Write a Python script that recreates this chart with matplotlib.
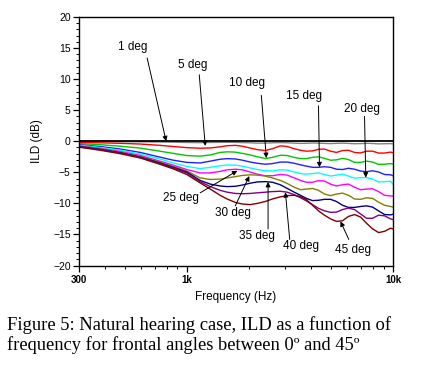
import matplotlib
matplotlib.use('Agg')
import matplotlib.pyplot as plt
from matplotlib.ticker import FixedLocator, MultipleLocator, NullFormatter

plt.rcParams['font.family'] = ['Liberation Sans', 'DejaVu Sans']

# ---------------- data ----------------
freq_hz = [300, 380, 475, 595, 740, 860, 1000, 1160, 1300, 1450, 1570, 1720, 1860,
           2030, 2200, 2400, 2600, 2840, 3070, 3320, 3560, 3800, 4070, 4350, 4650,
           4980, 5320, 5690, 6080, 6510, 6960, 7440, 7960, 8510, 9100, 9730, 10000]

ild_0 = [0.0, 0.0, 0.0, 0.0, 0.0, 0.0, 0.0, 0.0, 0.0, 0.0, 0.0, 0.0, 0.0, 0.0, 0.0,
         0.0, 0.0, 0.0, 0.0, 0.0, 0.0, 0.0, 0.0, 0.0, 0.0, 0.0, 0.0, 0.0, 0.0, 0.0,
         0.0, 0.0, 0.0, 0.0, 0.0, 0.0, 0.0]
ild_1 = [-0.05, -0.05, -0.07, -0.1, -0.12, -0.15, -0.2, -0.22, -0.2, -0.18, -0.17, -0.18,
         -0.22, -0.25, -0.3, -0.3, -0.25, -0.22, -0.25, -0.3, -0.35, -0.32, -0.28, -0.3,
         -0.35, -0.38, -0.33, -0.3, -0.35, -0.4, -0.38, -0.33, -0.36, -0.42, -0.4, -0.38, -0.42]
ild_5 = [-0.2, -0.25, -0.33, -0.45, -0.66, -0.85, -1.03, -1.12, -1.08, -0.9, -0.72, -0.66,
         -0.8, -1.1, -1.35, -1.5, -1.2, -0.75, -0.85, -1.2, -1.45, -1.6, -1.55, -1.3,
         -1.25, -1.6, -1.8, -1.5, -1.45, -1.8, -1.88, -1.6, -1.6, -1.9, -1.9, -1.75, -1.85]
ild_10 = [-0.37, -0.55, -0.8, -1.1, -1.6, -1.95, -2.3, -2.4, -2.2, -1.8, -1.7, -1.75,
          -1.95, -2.2, -2.5, -2.78, -2.6, -2.25, -2.3, -2.6, -2.78, -2.8, -2.6, -2.5,
          -2.75, -3.05, -3.0, -2.75, -2.95, -3.4, -3.4, -3.2, -3.35, -3.72, -3.7, -3.6, -3.7]
ild_15 = [-0.55, -0.85, -1.25, -1.8, -2.55, -3.05, -3.4, -3.5, -3.2, -2.9, -2.8, -2.85,
          -3.05, -3.35, -3.55, -3.7, -3.6, -3.35, -3.35, -3.55, -3.8, -4.0, -4.2, -4.2,
          -4.1, -4.2, -4.5, -4.55, -4.35, -4.5, -4.8, -4.9, -4.75, -4.95, -5.35, -5.4, -5.55]
ild_20 = [-0.65, -1.0, -1.45, -2.05, -2.85, -3.5, -4.05, -4.4, -4.2, -3.95, -3.82, -3.85,
          -4.0, -4.3, -4.55, -4.75, -4.78, -4.6, -4.65, -4.95, -5.2, -5.3, -5.2, -5.1,
          -5.35, -5.6, -5.45, -5.3, -5.6, -5.95, -5.85, -5.85, -6.1, -6.55, -6.5, -6.45, -6.9]
ild_25 = [-0.75, -1.15, -1.65, -2.3, -3.2, -3.85, -4.55, -5.1, -5.1, -4.85, -4.6, -4.5,
          -4.6, -4.95, -5.3, -5.55, -5.55, -5.35, -5.45, -5.9, -6.3, -6.6, -6.6, -6.35,
          -6.4, -6.9, -7.2, -7.0, -6.9, -7.4, -7.8, -7.7, -7.65, -8.1, -8.7, -8.8, -8.85]
ild_30 = [-0.8, -1.2, -1.75, -2.45, -3.35, -4.05, -4.8, -5.9, -6.15, -6.1, -5.9, -5.7,
          -5.5, -5.4, -5.45, -5.6, -5.9, -6.3, -6.8, -7.4, -7.8, -7.7, -7.6, -7.9,
          -8.5, -8.75, -8.5, -8.35, -8.7, -9.3, -9.35, -9.1, -9.2, -9.8, -10.3, -10.5, -10.6]
ild_35 = [-0.85, -1.3, -1.85, -2.55, -3.5, -4.2, -4.95, -6.3, -6.9, -7.2, -7.3, -7.25,
          -7.05, -6.75, -6.55, -6.5, -6.6, -7.0, -7.6, -8.2, -8.7, -9.2, -9.55, -9.5,
          -9.35, -9.35, -9.7, -10.3, -10.65, -10.65, -10.5, -10.4, -10.6, -11.2, -11.8, -11.85, -11.75]
ild_40 = [-0.9, -1.35, -1.9, -2.6, -3.6, -4.3, -5.1, -6.5, -7.3, -7.9, -8.2, -8.4,
          -8.45, -8.4, -8.3, -8.2, -8.1, -8.05, -8.2, -8.6, -9.1, -9.6, -10.2, -10.8,
          -11.2, -11.45, -11.4, -11.0, -10.75, -11.0, -11.7, -12.4, -12.4, -11.9, -12.0, -12.5, -12.6]
ild_45 = [-0.95, -1.45, -2.0, -2.7, -3.7, -4.45, -5.35, -6.7, -7.7, -8.7, -9.3, -9.85,
          -10.1, -10.2, -10.0, -9.7, -9.3, -8.95, -8.75, -8.7, -8.9, -9.4, -10.3, -11.2,
          -11.9, -12.5, -12.9, -12.8, -12.1, -11.8, -12.2, -13.2, -14.1, -14.7, -14.5, -14.0, -14.1]

angle_labels = ['0 deg', '1 deg', '5 deg', '10 deg', '15 deg', '20 deg', '25 deg',
                '30 deg', '35 deg', '40 deg', '45 deg']
series = [ild_0, ild_1, ild_5, ild_10, ild_15, ild_20, ild_25, ild_30, ild_35, ild_40, ild_45]
colors = ['#000000', '#808080', '#FF0000', '#00C800', '#2020FF', '#00FFFF', '#FF00FF',
          '#808000', '#000080', '#800080', '#800000']

x_tick_values = [300, 1000, 10000]
x_tick_labels = ['300', '1k', '10k']
x_minor_values = [400, 500, 600, 700, 800, 900, 2000, 3000, 4000, 5000, 6000, 7000, 8000, 9000]
y_tick_values = [-20, -15, -10, -5, 0, 5, 10, 15, 20]

# ---------------- figure ----------------
W, H = 435, 367
fig = plt.figure(figsize=(W / 100, H / 100), dpi=100)
fig.patch.set_facecolor('white')
ax = fig.add_axes([79 / W, 1 - 265.5 / H, 314 / W, 248.5 / H])

for vals, col, lab in zip(series, colors, angle_labels):
    lw = 1.3 if lab == '0 deg' else 1.0
    ax.plot(freq_hz, vals, color=col, lw=lw, label=lab, zorder=3 if lab == '0 deg' else 2)

ax.set_xscale('log')
ax.set_xlim(300, 10000)
ax.set_ylim(-20, 20)
ax.xaxis.set_major_locator(FixedLocator(x_tick_values))
ax.set_xticklabels(x_tick_labels)
ax.xaxis.set_minor_locator(FixedLocator(x_minor_values))
ax.xaxis.set_minor_formatter(NullFormatter())
ax.set_yticks(y_tick_values)
ax.yaxis.set_minor_locator(MultipleLocator(1))
ax.tick_params(which='major', length=4, width=0.9, direction='out', pad=2)
ax.tick_params(axis='y', which='major', labelsize=7.5)
ax.tick_params(axis='x', which='major', labelsize=7, pad=3)
ax.tick_params(which='minor', length=2, width=0.7, direction='out')
for lab in ax.get_xticklabels():
    lab.set_fontweight('bold')
for sp in ax.spines.values():
    sp.set_linewidth(1.0)

# annotations: (text, text position, arrow start, arrow tip)
notes = [
    ('1 deg', (549, 15.2), (642, 13.4), (794, 0.0)),
    ('5 deg', (1062, 12.3), (1149, 10.7), (1229, -0.75)),
    ('10 deg', (1965, 9.4), (2298, 7.4), (2431, -2.7)),
    ('15 deg', (3720, 7.3), (4351, 5.7), (4400, -4.2)),
    ('20 deg', (7036, 5.2), (7276, 4.0), (7380, -5.85)),
    ('25 deg', (939, -9.1), (1161, -8.3), (1757, -4.75)),
    ('30 deg', (1681, -11.5), (1718, -10.4), (2010, -5.6)),
    ('35 deg', (2198, -15.3), (2478, -14.1), (2478, -6.55)),
    ('40 deg', (3597, -16.9), (3155, -15.8), (3007, -8.2)),
    ('45 deg', (6363, -17.5), (6104, -15.8), (5563, -12.9)),
]
for txt, tpos, start, tip in notes:
    ax.text(tpos[0], tpos[1], txt, ha='center', va='center', fontsize=8.5, zorder=5)
    ax.annotate('', xy=tip, xytext=start,
                arrowprops=dict(arrowstyle='-|>', color='black', lw=0.7,
                                mutation_scale=7, shrinkA=0, shrinkB=0), zorder=5)

fig.text(236 / W, 1 - 297 / H, 'Frequency (Hz)', ha='center', va='center', fontsize=8.5)
fig.text(37 / W, 1 - 141 / H, 'ILD (dB)', rotation=90, ha='center', va='center', fontsize=8.5)

cap1 = 'Figure 5: Natural hearing case, ILD as a function of'
cap2 = 'frequency for frontal angles between 0\u00ba and 45\u00ba'
fig.text(7 / W, 1 - 330.5 / H, cap1, ha='left', va='baseline', fontsize=13.3,
         family=['Liberation Serif', 'DejaVu Serif'])
fig.text(7 / W, 1 - 350 / H, cap2, ha='left', va='baseline', fontsize=13.3,
         family=['Liberation Serif', 'DejaVu Serif'])

fig.savefig('out.png', dpi=100, facecolor='white')
